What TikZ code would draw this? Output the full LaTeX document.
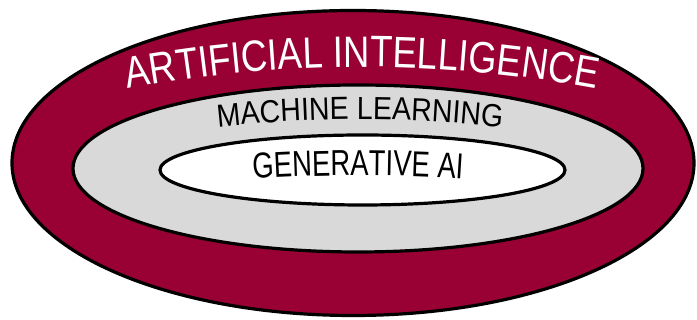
\documentclass[tikz,border=0pt]{standalone}
\usepackage{fontspec}
\usetikzlibrary{decorations.text}
\newfontfamily\aifont[FakeStretch=0.83]{Liberation Sans}
\newfontfamily\mlfont[FakeStretch=0.89]{Liberation Sans}
\newfontfamily\genfont[FakeStretch=0.76]{Liberation Sans}
\definecolor{aired}{HTML}{990033}
\definecolor{mlgrey}{HTML}{D9D9D9}
\tikzset{ring/.style={draw=black, line width=3.2pt}}
\begin{document}
\begin{tikzpicture}[x=1pt,y=1pt]
\useasboundingbox[fill=white] (0,0) rectangle (697,320);
\draw[ring, fill=aired] (353,157) ellipse [x radius=341pt, y radius=152.5pt];
\draw[ring, fill=mlgrey] (358,151.5) ellipse [x radius=285pt, y radius=83.5pt];
\draw[ring, fill=white] (362.5,150) ellipse [x radius=202.5pt, y radius=35pt];
\path[decorate, decoration={text along path, text align=center,
  text={|\aifont\fontsize{44}{50}\selectfont\color{white}|ARTIFICIAL INTELLIGENCE}}]
  (362,-1012) ++(105:1265pt) arc[start angle=105, end angle=75, radius=1265pt];
\path[decorate, decoration={text along path, text align=center,
  text={|\mlfont\fontsize{32}{38}\selectfont\color{black}|MACHINE LEARNING}}]
  (360,-1099.5) ++(100:1300pt) arc[start angle=100, end angle=80, radius=1300pt];
\path[decorate, decoration={text along path, text align=center,
  text={|\genfont\fontsize{36}{42}\selectfont\color{black}|GENERATIVE AI}}]
  (358,-1455.5) ++(96:1600pt) arc[start angle=96, end angle=84, radius=1600pt];
\end{tikzpicture}
\end{document}
